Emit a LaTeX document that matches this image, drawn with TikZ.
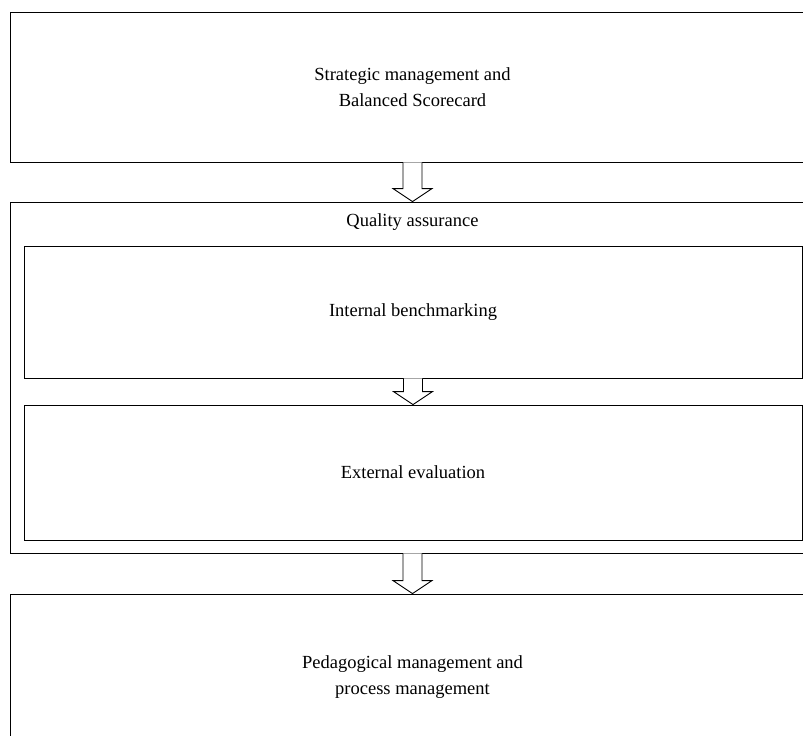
\documentclass[tikz,border=0pt]{standalone}
\usepackage{fontspec}
\setmainfont{Liberation Serif}
\usetikzlibrary{calc,positioning}

% hollow block arrow, drawn straight down from #1 to #2
\newcommand{\blockarrow}[2]{%
  \draw[fill=white] let \p1=(#1), \p2=(#2) in
    (\x1-9.5pt,\y1) -- (\x1-9.5pt,\y2+13pt) -- (\x1-19.5pt,\y2+13pt) -- (\x1,\y2)
    -- (\x1+19.5pt,\y2+13pt) -- (\x1+9.5pt,\y2+13pt) -- (\x1+9.5pt,\y1);}

\begin{document}
\begin{tikzpicture}[x=1pt,y=-1pt,line width=0.9pt,
                    every node/.style={font=\fontsize{18.5}{26}\selectfont},
                    block/.style={draw,minimum width=805pt,align=center,inner sep=0pt},
                    inner/.style={draw,minimum width=778pt,align=center,inner sep=0pt}]
  \useasboundingbox (0,0) rectangle (803,736);
  \clip (0,0) rectangle (803,736);

  \node[block,minimum height=150pt] (strat) at (412.5,87)  {Strategic management and\\Balanced Scorecard};
  \node[block,minimum height=351pt] (qa)    at (412.5,377.5) {};
  \node                             (qatitle) at (412.5,222) {Quality assurance};
  \node[inner,minimum height=132pt] (intb)  at (413,312)   {Internal benchmarking};
  \node[inner,minimum height=135pt] (exte)  at (413,472.5) {External evaluation};
  \node[block,minimum height=166pt] (peda)  at (412.5,677) {Pedagogical management and\\process management};

  \blockarrow{strat.south}{qa.north}
  \blockarrow{intb.south}{exte.north}
  \blockarrow{qa.south}{peda.north}

\end{tikzpicture}
\end{document}
